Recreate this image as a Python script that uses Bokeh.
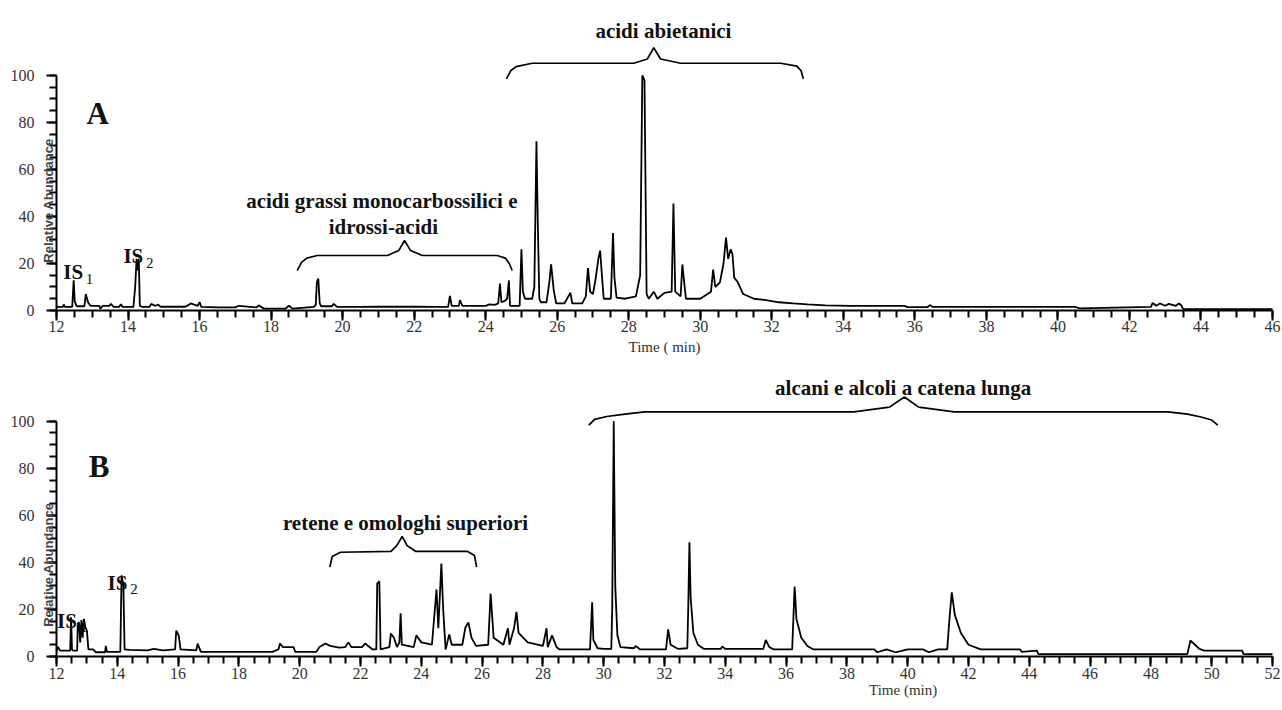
import math
from bokeh.plotting import figure
from bokeh.models import Range1d, FixedTicker, Label
from bokeh.layouts import column
from bokeh.embed import file_html
from bokeh.resources import INLINE

# ---------------- data: panel A (time in min, relative abundance %) ----------------
trace_a = [
    (12.0, 1.5), (12.18, 1.5), (12.2, 2.6), (12.24, 1.5), (12.44, 1.5), (12.48, 12.8), (12.51, 4),
    (12.56, 1.8), (12.78, 1.8), (12.82, 7), (12.88, 3.5), (12.95, 2), (13.2, 2), (13.22, 0.8),
    (13.3, 2), (13.48, 2), (13.52, 2.8), (13.6, 1.5), (13.75, 1.5), (13.8, 2.6), (13.85, 1.5),
    (14.15, 1.5), (14.2, 10), (14.24, 22), (14.27, 17), (14.3, 22), (14.33, 2), (14.4, 1.5),
    (14.6, 1.5), (14.65, 2.8), (14.75, 2), (14.85, 2.5), (14.9, 1.6), (15.6, 1.6), (15.7, 2.4),
    (15.75, 3), (15.95, 2), (16.0, 3.6), (16.05, 1.5), (16.5, 1.3), (17.0, 1.3), (17.1, 2),
    (17.6, 1.3), (17.65, 2.2), (17.8, 0.8), (18.4, 0.8), (18.5, 2), (18.6, 0.8), (19.2, 1.5),
    (19.25, 2.5), (19.28, 12), (19.32, 13.6), (19.36, 3), (19.4, 1.8), (19.7, 1.8), (19.75, 2.8),
    (19.85, 1.5), (20.5, 1.5), (21.0, 1.6), (22.0, 1.6), (22.6, 1.5), (22.95, 1.5), (23.0, 6.2),
    (23.05, 2), (23.25, 2), (23.28, 4.4), (23.35, 2), (24.0, 2), (24.1, 2.6), (24.25, 2.4),
    (24.35, 3), (24.4, 11.5), (24.44, 3.5), (24.55, 4.2), (24.6, 5), (24.65, 12.8), (24.68, 2),
    (24.95, 2), (25.0, 26), (25.04, 8), (25.1, 5), (25.3, 5), (25.36, 10), (25.42, 72),
    (25.46, 35), (25.5, 5), (25.54, 3.5), (25.7, 3.5), (25.78, 12), (25.83, 19.6), (25.9, 9),
    (25.97, 3), (26.2, 3), (26.37, 7.6), (26.42, 3), (26.7, 3), (26.8, 6), (26.86, 18),
    (26.92, 8), (27.0, 7), (27.08, 14), (27.15, 22), (27.2, 25.5), (27.25, 15), (27.3, 5),
    (27.5, 5), (27.56, 33), (27.6, 14), (27.66, 5.5), (27.9, 5), (28.2, 6), (28.32, 15),
    (28.38, 100), (28.44, 98), (28.5, 7), (28.56, 5), (28.7, 8), (28.8, 5), (29.0, 7.5),
    (29.2, 8), (29.25, 45.5), (29.3, 8), (29.45, 6), (29.5, 19.6), (29.55, 12), (29.6, 5),
    (30.0, 5), (30.3, 8), (30.36, 17.4), (30.42, 10), (30.55, 12), (30.65, 20), (30.72, 31),
    (30.78, 22), (30.85, 26), (30.9, 24), (30.95, 14), (31.05, 12), (31.2, 7), (31.5, 5),
    (31.8, 4.5), (32.2, 3.5), (32.6, 3), (33.0, 2.6), (33.5, 2.2), (34.2, 2), (35.7, 2),
    (35.8, 1.4), (36.35, 1.4), (36.42, 2.3), (36.5, 1.5), (40.5, 1.5), (40.6, 0.9), (42.6, 1.5),
    (42.65, 3.2), (42.75, 2), (42.85, 3), (43.0, 2), (43.1, 2.8), (43.3, 2), (43.38, 3),
    (43.45, 2.2), (43.5, 0.6), (46.0, 0.6),
]

# ---------------- data: panel B ----------------
trace_b = [
    (12.0, 2.3), (12.05, 4), (12.12, 2.5), (12.45, 2.5), (12.48, 16.7), (12.51, 3), (12.55, 2.5),
    (12.68, 2.5), (12.7, 14), (12.74, 14.5), (12.78, 6), (12.82, 15.5), (12.86, 8), (12.9, 16),
    (12.95, 12.5), (13.0, 11), (13.05, 3), (13.2, 3), (13.3, 1.8), (13.6, 1.8), (13.62, 4.5),
    (13.66, 2), (14.1, 2), (14.14, 34.5), (14.2, 30), (14.24, 3), (14.4, 2.8), (15.0, 2.6),
    (15.2, 3.2), (15.5, 2.6), (15.9, 3), (15.94, 11), (16.02, 9), (16.08, 3), (16.6, 2.6),
    (16.64, 5.5), (16.75, 2), (19.1, 2), (19.3, 3), (19.35, 5.5), (19.45, 4), (19.8, 4),
    (19.85, 2), (20.55, 2), (20.65, 4), (20.85, 5.5), (21.0, 4.5), (21.3, 3.8), (21.5, 4),
    (21.6, 6), (21.7, 4), (22.05, 4), (22.15, 5.5), (22.4, 3), (22.52, 3), (22.55, 31),
    (22.62, 32), (22.66, 3), (22.95, 4), (23.0, 9.8), (23.1, 8), (23.2, 4), (23.28, 6),
    (23.32, 18.4), (23.36, 5), (23.75, 4), (23.84, 9), (24.0, 6), (24.35, 5), (24.5, 28.5),
    (24.56, 12), (24.66, 39.5), (24.72, 20), (24.8, 3), (24.92, 9.4), (25.0, 5), (25.35, 5),
    (25.45, 12.3), (25.55, 14.5), (25.65, 8), (25.8, 4.5), (26.2, 5), (26.28, 26.8), (26.38, 8),
    (26.7, 5), (26.85, 12), (26.9, 5), (27.05, 12), (27.13, 19), (27.2, 10), (27.5, 6),
    (28.0, 4.5), (28.12, 12), (28.16, 4), (28.3, 9), (28.45, 4), (28.55, 3), (29.55, 3),
    (29.62, 23), (29.66, 7), (29.8, 3.5), (30.0, 3.2), (30.25, 3.2), (30.28, 20), (30.33, 100),
    (30.38, 30), (30.45, 9), (30.55, 4), (31.0, 3.5), (31.05, 4.5), (31.2, 3), (32.05, 3),
    (32.12, 11.5), (32.2, 5), (32.45, 3.2), (32.75, 3.5), (32.78, 20), (32.82, 48.6),
    (32.86, 25), (32.95, 10), (33.1, 5), (33.3, 3.2), (33.85, 3.2), (33.9, 4.3), (34.0, 3.2),
    (35.25, 3.2), (35.33, 7), (35.45, 4), (35.6, 3), (36.2, 3), (36.28, 29.7), (36.34, 16),
    (36.5, 8), (36.7, 4.5), (36.9, 3), (38.9, 3), (39.0, 1.8), (39.3, 3), (39.6, 1.8),
    (40.0, 3), (40.5, 3), (40.7, 1.8), (41.0, 3), (41.3, 3), (41.38, 17), (41.45, 27.3),
    (41.55, 17.7), (41.75, 10), (42.0, 5), (42.4, 3), (43.7, 3), (43.75, 2), (44.25, 2.5),
    (44.3, 1.0), (49.2, 1.0), (49.3, 6.8), (49.45, 5), (49.6, 3.2), (49.75, 2.5), (51.0, 2.5),
    (51.05, 1.0), (52.0, 1.0),
]

# curly brackets (time, abundance)
brace_a_acids_t = [24.58, 24.7, 24.85, 25.3, 28.14, 28.52, 28.7, 28.89, 29.45, 32.25, 32.7, 32.82, 32.88]
brace_a_acids_y = [98.6, 102, 103.8, 105.2, 105.2, 107, 111.8, 107, 105.2, 105.2, 104, 102, 98.6]
brace_a_fatty_t = [18.73, 18.85, 19.0, 19.29, 21.25, 21.57, 21.73, 21.9, 22.23, 24.32, 24.55, 24.66, 24.74]
brace_a_fatty_y = [17, 20.5, 22.3, 23.4, 23.4, 25.5, 29.8, 25.5, 23.4, 23.4, 22.3, 20, 17]
brace_b_retene_t = [20.99, 21.07, 21.34, 23.0, 23.2, 23.37, 23.53, 23.81, 25.51, 25.75, 25.82]
brace_b_retene_y = [38.0, 42.5, 44.3, 44.7, 47.2, 51.0, 47.2, 44.7, 44.7, 42.9, 38.0]
brace_b_alkane_t = [29.51, 29.7, 30.1, 30.7, 31.35, 38.23, 39.4, 39.89, 40.36, 41.53, 48.56, 49.2, 49.65, 50.0, 50.2]
brace_b_alkane_y = [98.3, 100.8, 102, 103, 104, 104, 106, 110.3, 106, 104, 104, 103, 101.8, 100.5, 98.3]

# axes
x_ticks_a = list(range(12, 47, 2))
x_ticks_b = list(range(12, 53, 2))
y_ticks = [0, 20, 40, 60, 80, 100]

# annotations: (text, x, y, size, style, align, baseline, angle)
notes_a = [
    ("acidi abietanici", 28.97, 119.1, "21px", "bold", "center"),
    ("acidi grassi monocarbossilici  e", 21.17, 46.5, "21px", "bold", "center"),
    ("idrossi-acidi", 21.14, 35.4, "21px", "bold", "center"),
    ("A", 13.15, 83.7, "31px", "bold", "center"),
    ("IS", 12.19, 16.3, "21px", "bold", "left"),
    ("1", 12.82, 13.4, "15px", "normal", "left"),
    ("IS", 13.87, 23.0, "21px", "bold", "left"),
    ("2", 14.5, 20.0, "15px", "normal", "left"),
]
notes_b = [
    ("alcani e alcoli a catena lunga", 39.85, 114.0, "21px", "bold", "center"),
    ("retene e omologhi superiori", 23.48, 56.7, "21px", "bold", "center"),
    ("B", 13.4, 80.7, "31px", "bold", "center"),
    ("IS", 12.02, 15.0, "21px", "bold", "left"),
    ("1", 12.78, 12.5, "15px", "normal", "left"),
    ("IS", 13.68, 31.2, "21px", "bold", "left"),
    ("2", 14.43, 28.9, "15px", "normal", "left"),
]

SERIF = "'Liberation Serif'"


def make_panel(trace, x_rng, x_end, ticks, y_rng, height, xlabel, xlabel_pos, ylabel_pos, notes, braces):
    p = figure(width=1282, height=height, x_range=Range1d(*x_rng), y_range=Range1d(*y_rng),
               output_backend="svg", toolbar_location=None,
               min_border_left=0, min_border_right=0, min_border_top=0, min_border_bottom=0)
    p.xgrid.visible = False
    p.ygrid.visible = False
    p.outline_line_color = None

    t = [a for a, b in trace]
    v = [b for a, b in trace]
    p.line(t, v, line_color="black", line_width=1.8)
    for bt, by in braces:
        p.line(bt, by, line_color="black", line_width=1.7)

    minor_x = [12 + 0.5 * i for i in range(int((x_end - 12) * 2) + 1)]
    p.xaxis.ticker = FixedTicker(ticks=ticks, minor_ticks=minor_x)
    p.yaxis.ticker = FixedTicker(ticks=y_ticks, minor_ticks=list(range(0, 101, 5)))
    p.yaxis.bounds = (0, 100)
    p.xaxis.bounds = (12, x_end)
    p.xaxis.fixed_location = 0
    p.yaxis.fixed_location = 12
    for ax in p.xaxis + p.yaxis:
        ax.axis_line_width = 2
        ax.axis_line_color = "black"
        ax.major_tick_line_width = 2
        ax.minor_tick_line_width = 2
        ax.major_tick_line_color = "black"
        ax.minor_tick_line_color = "black"
        ax.major_tick_in = 0
        ax.major_tick_out = 10
        ax.minor_tick_in = 0
        ax.minor_tick_out = 7
        ax.major_label_text_font = SERIF
        ax.major_label_text_font_size = "16px"
        ax.major_label_text_color = "#333333"
    p.xaxis.major_label_standoff = 1
    p.yaxis.major_label_standoff = 12

    p.add_layout(Label(x=xlabel_pos[0], y=xlabel_pos[1], text=xlabel, text_font=SERIF,
                       text_font_size="15px", text_align="center", text_baseline="middle",
                       text_color="#333333"))
    p.add_layout(Label(x=ylabel_pos[0], y=ylabel_pos[1], text="Relative Abundance", angle=math.pi / 2,
                       text_font="'Liberation Sans'", text_font_size="13px", text_font_style="bold",
                       text_align="center", text_baseline="middle", text_color="#444444"))

    for text, x, y, size, style, align in notes:
        p.add_layout(Label(x=x, y=y, text=text, text_font=SERIF, text_font_size=size,
                           text_font_style=style, text_align=align,
                           text_baseline="alphabetic", text_color="#111111"))
    return p


pA = make_panel(trace_a, (10.4342, 46.2796), 46, x_ticks_a, (-22.13, 131.91), 362,
                "Time ( min)", (29.0, -15.7), (11.78, 46.8), notes_a,
                [(brace_a_acids_t, brace_a_acids_y), (brace_a_fatty_t, brace_a_fatty_y)])
pB = make_panel(trace_b, (10.158, 52.329), 52, x_ticks_b, (-22.95, 124.95), 348,
                "Time (min)", (39.85, -14.4), (11.74, 39.0), notes_b,
                [(brace_b_retene_t, brace_b_retene_y), (brace_b_alkane_t, brace_b_alkane_y)])

layout = column(pA, pB, spacing=0)
open("out.html", "w").write(file_html(layout, INLINE))
